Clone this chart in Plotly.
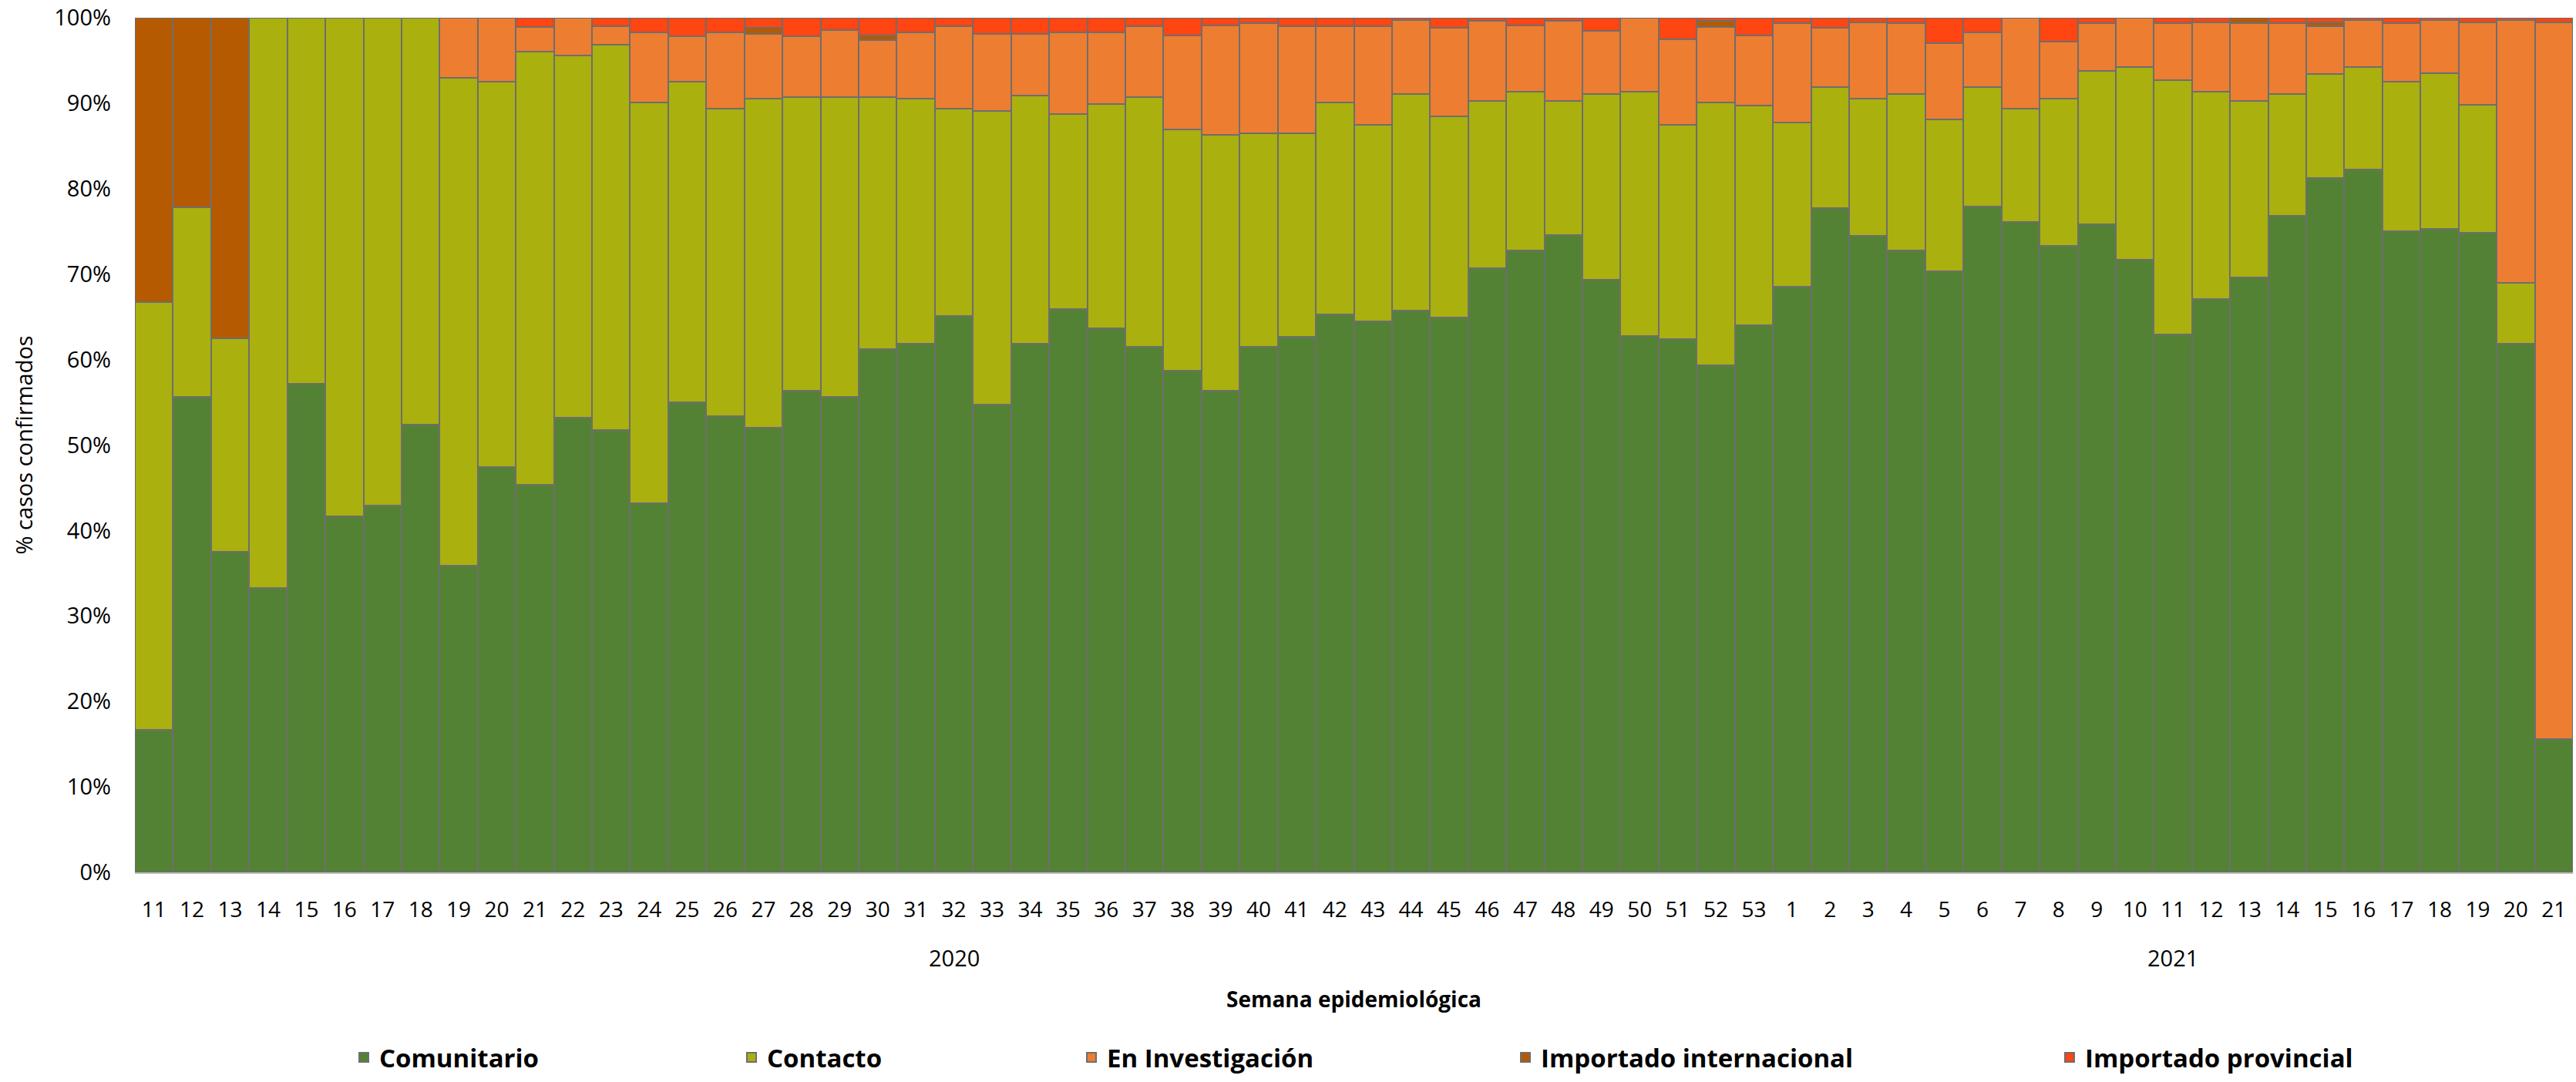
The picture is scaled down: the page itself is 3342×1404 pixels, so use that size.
import plotly.graph_objects as go

# ---------------- data ----------------
weeks = [11, 12, 13, 14, 15, 16, 17, 18, 19, 20, 21, 22, 23, 24, 25, 26, 27, 28, 29, 30,
         31, 32, 33, 34, 35, 36, 37, 38, 39, 40, 41, 42, 43, 44, 45, 46, 47, 48, 49, 50,
         51, 52, 53,
         1, 2, 3, 4, 5, 6, 7, 8, 9, 10, 11, 12, 13, 14, 15, 16, 17, 18, 19, 20, 21]
years = ["2020"] * 43 + ["2021"] * 21

comunitario = [16.7, 55.6, 37.5, 33.3, 57.2, 41.7, 42.9, 52.4, 35.9, 47.4, 45.4, 53.2, 51.8,
               43.2, 55.0, 53.4, 52.0, 56.4, 55.6, 61.2, 61.9, 65.1, 54.7, 61.9, 65.9, 63.7,
               61.5, 58.7, 56.4, 61.5, 62.7, 65.3, 64.5, 65.7, 64.9, 70.7, 72.8, 74.6, 69.3,
               62.8, 62.4, 59.3, 64.0,
               68.5, 77.7, 74.5, 72.8, 70.3, 77.9, 76.1, 73.3, 75.8, 71.7, 62.9, 67.1, 69.6,
               76.8, 81.2, 82.2, 75.0, 75.3, 74.8, 61.9, 15.6]
contacto = [50.0, 22.2, 25.0, 66.7, 42.8, 58.3, 57.1, 47.6, 57.1, 45.1, 50.6, 42.4, 45.0,
            46.9, 37.5, 36.0, 38.5, 34.3, 35.1, 29.5, 28.6, 24.3, 34.4, 29.0, 22.8, 26.2,
            29.2, 28.2, 29.9, 25.0, 23.8, 24.8, 23.0, 25.4, 23.6, 19.6, 18.5, 15.7, 21.8,
            28.5, 25.1, 30.8, 25.7,
            19.2, 14.2, 16.0, 18.3, 17.8, 14.0, 13.3, 17.2, 18.0, 22.5, 29.8, 24.2, 20.7,
            14.3, 12.2, 12.0, 17.5, 18.2, 15.0, 7.1, 0.0]
en_investigacion = [0.0, 0.0, 0.0, 0.0, 0.0, 0.0, 0.0, 0.0, 7.0, 7.5, 2.9, 4.4, 2.2,
                    8.2, 5.3, 8.9, 7.6, 7.1, 7.9, 6.7, 7.8, 9.6, 9.0, 7.2, 9.6, 8.4,
                    8.3, 11.0, 12.8, 12.9, 12.5, 8.9, 11.5, 8.6, 10.3, 9.3, 7.8, 9.3, 7.4,
                    8.7, 10.0, 8.8, 8.2,
                    11.7, 6.9, 9.0, 8.3, 8.9, 6.4, 10.6, 6.7, 5.6, 5.8, 6.7, 8.2, 9.1,
                    8.3, 5.6, 5.5, 6.9, 6.2, 9.7, 30.7, 83.9]
importado_internacional = [33.3, 22.2, 37.5, 0.0, 0.0, 0.0, 0.0, 0.0, 0.0, 0.0, 0.0, 0.0, 0.0,
                           0.0, 0.0, 0.0, 0.7, 0.0, 0.0, 0.5, 0.0, 0.0, 0.0, 0.0, 0.0, 0.0,
                           0.0, 0.0, 0.0, 0.0, 0.0, 0.0, 0.0, 0.0, 0.0, 0.0, 0.0, 0.0, 0.0,
                           0.0, 0.0, 0.7, 0.0,
                           0.0, 0.0, 0.0, 0.0, 0.0, 0.0, 0.0, 0.0, 0.0, 0.0, 0.0, 0.0, 0.6,
                           0.0, 0.5, 0.0, 0.0, 0.0, 0.0, 0.0, 0.0]
importado_provincial = [0.0, 0.0, 0.0, 0.0, 0.0, 0.0, 0.0, 0.0, 0.0, 0.0, 1.1, 0.0, 1.0,
                        1.7, 2.2, 1.7, 1.2, 2.2, 1.4, 2.1, 1.7, 1.0, 1.9, 1.9, 1.7, 1.7,
                        1.0, 2.1, 0.9, 0.6, 1.0, 1.0, 1.0, 0.3, 1.2, 0.4, 0.9, 0.4, 1.5,
                        0.0, 2.5, 0.4, 2.1,
                        0.6, 1.2, 0.5, 0.6, 3.0, 1.7, 0.0, 2.8, 0.6, 0.0, 0.6, 0.5, 0.0,
                        0.6, 0.5, 0.3, 0.6, 0.3, 0.5, 0.3, 0.5]

series_names = ["Comunitario", "Contacto", "En Investigación",
                "Importado internacional", "Importado provincial"]
series_values = [comunitario, contacto, en_investigacion,
                 importado_internacional, importado_provincial]
series_colors = ["#548235", "#AAB00E", "#ED7D31", "#B55A00", "#FE4512"]

# ---------------- layout geometry (pixels) ----------------
W, H = 3342, 1404
L, R, T, B = 175, 4, 23, 272
PW = W - L - R
PH = H - T - B

def px_x(px):
    return (px - L) / PW

def px_y(py):
    return (H - B - py) / PH

FONT = "Open Sans, Lato, Arial, sans-serif"
legend_left_px = [452, 955, 1396, 1959, 2665]
legend_names = ["legend", "legend2", "legend3", "legend4", "legend5"]

xpos = list(range(len(weeks)))

fig = go.Figure()
for i, (name, vals, col) in enumerate(zip(series_names, series_values, series_colors)):
    fig.add_trace(go.Bar(
        x=xpos, y=vals, name=name,
        marker=dict(color=col, line=dict(color="#6E6E6E", width=2)),
        customdata=[[w, y] for w, y in zip(weeks, years)],
        hovertemplate="Semana %{customdata[0]} (%{customdata[1]})<br>" + name + ": %{y:.1f}%<extra></extra>",
        legend=legend_names[i],
    ))

layout_legends = {}
for i, ln in enumerate(legend_names):
    layout_legends[ln] = dict(
        orientation="h", x=px_x(legend_left_px[i]), y=px_y(1372),
        xanchor="left", yanchor="middle", bgcolor="rgba(0,0,0,0)",
        font=dict(family=FONT, size=33, color="#000000", weight="bold"),
    )

fig.update_layout(
    width=W, height=H,
    margin=dict(l=L, r=R, t=T, b=B, pad=0, autoexpand=False),
    paper_bgcolor="white", plot_bgcolor="white",
    barmode="stack", bargap=0,
    showlegend=True,
    font=dict(family=FONT, color="#000000"),
    **layout_legends,
)

fig.update_xaxes(
    range=[-0.5, len(weeks) - 0.5],
    tickmode="array", tickvals=xpos, ticktext=[str(w) for w in weeks],
    tickfont=dict(family=FONT, size=28, color="#000000"),
    ticks="", ticklabelstandoff=22,
    showgrid=False, zeroline=False,
    showline=True, linecolor="#BFBFBF", linewidth=2,
    automargin=False, fixedrange=True,
)
fig.update_yaxes(
    range=[0, 100], tickmode="array", tickvals=list(range(0, 101, 10)),
    ticktext=[f"{v}%" for v in range(0, 101, 10)],
    tickfont=dict(family=FONT, size=29, color="#000000"),
    ticks="", ticklabelstandoff=30,
    showgrid=False, zeroline=False, showline=False,
    automargin=False, fixedrange=True,
)

# year group labels centred under each year's weeks
for yr in ["2020", "2021"]:
    idx = [i for i, y in enumerate(years) if y == yr]
    fig.add_annotation(
        x=(idx[0] + idx[-1]) / 2, xref="x", y=px_y(1242), yref="paper",
        text=yr, showarrow=False, xanchor="center", yanchor="middle",
        font=dict(family=FONT, size=29, color="#000000"),
    )

# axis titles
fig.add_annotation(
    x=0.5, xref="paper", y=px_y(1296), yref="paper",
    text="<b>Semana epidemiológica</b>", showarrow=False,
    xanchor="center", yanchor="middle",
    font=dict(family=FONT, size=28, color="#000000"),
)
fig.add_annotation(
    x=px_x(30), xref="paper", y=0.5, yref="paper",
    text="% casos confirmados", showarrow=False, textangle=-90,
    xanchor="center", yanchor="middle",
    font=dict(family=FONT, size=29, color="#000000"),
)

fig.write_html(
    "out.html",
    config={"displayModeBar": False},
    post_script="document.body.style.margin='0';document.body.style.overflow='hidden';",
)
